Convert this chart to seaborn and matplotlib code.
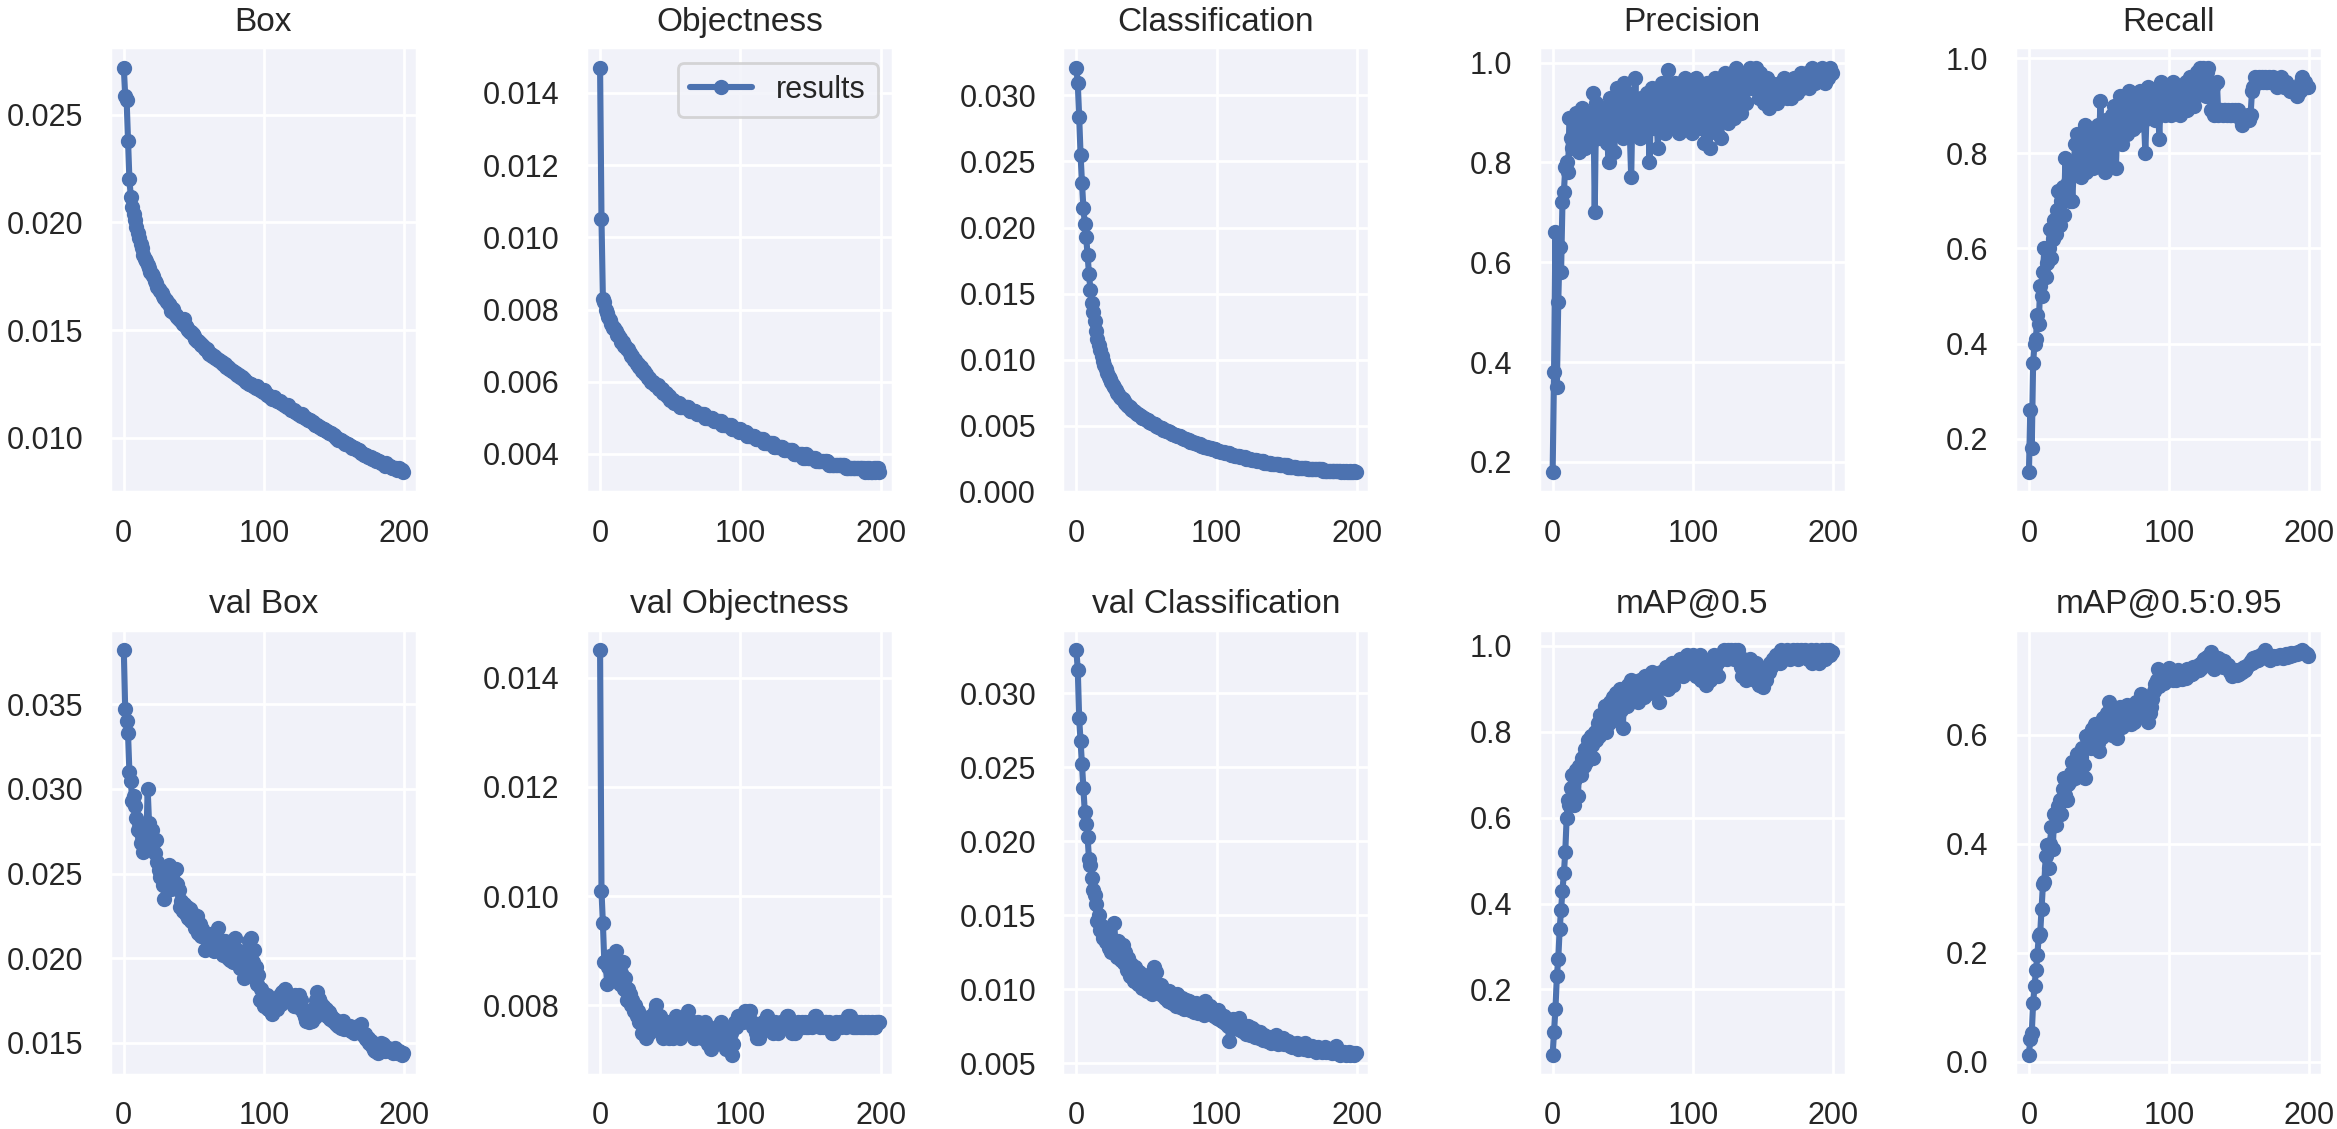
import numpy as np
import matplotlib
matplotlib.use("Agg")
import matplotlib.pyplot as plt
import seaborn as sns

# epochs 0..199
epochs = list(range(200))

titles = ['Box', 'Objectness', 'Classification', 'Precision', 'Recall',
          'val Box', 'val Objectness', 'val Classification', 'mAP@0.5', 'mAP@0.5:0.95']

box = [
    .0272, .0259, .0257, .0238, .0220, .0212, .0207, .0204, .0201, .0198,
    .0195, .0193, .0190, .0188, .0185, .0183, .0182, .0180, .0179, .0177,
    .0176, .0175, .0173, .0172, .0170, .0169, .0168, .0167, .0166, .0165,
    .0164, .0163, .0162, .0161, .0159, .0160, .0158, .0157, .0156, .0155,
    .0155, .0154, .0153, .0155, .0152, .0151, .0150, .0149, .0149, .0148,
    .0147, .0146, .0145, .0145, .0144, .0143, .0143, .0142, .0141, .0141,
    .0140, .0139, .0139, .0138, .0138, .0137, .0137, .0136, .0136, .0135,
    .0135, .0134, .0134, .0133, .0133, .0132, .0132, .0131, .0131, .0130,
    .0130, .0129, .0129, .0128, .0128, .0127, .0127, .0126, .0126, .0125,
    .0125, .0125, .0124, .0124, .0123, .0124, .0123, .0122, .0122, .0121,
    .0122, .0121, .0120, .0120, .0119, .0119, .0118, .0119, .0118, .0117,
    .0117, .0117, .0116, .0116, .0115, .0115, .0114, .0115, .0114, .0113,
    .0113, .0113, .0112, .0112, .0111, .0111, .0110, .0111, .0110, .0109,
    .0109, .0108, .0108, .0108, .0107, .0107, .0106, .0106, .0106, .0105,
    .0105, .0104, .0104, .0104, .0103, .0103, .0102, .0102, .0102, .0101,
    .0101, .0100, .0100, .0099, .0099, .0099, .0098, .0098, .0097, .0097,
    .0097, .0096, .0096, .0095, .0095, .0095, .0094, .0094, .0094, .0093,
    .0093, .0092, .0092, .0092, .0091, .0091, .0091, .0090, .0090, .0090,
    .0089, .0089, .0089, .0088, .0088, .0088, .0087, .0088, .0087, .0087,
    .0087, .0086, .0086, .0086, .0086, .0085, .0086, .0085, .0085, .0084,
]

objectness = [
    .0147, .0105, .0083, .0082, .0080, .0079, .0078, .0077, .0076, .0075,
    .0075, .0074, .0073, .0073, .0072, .0071, .0071, .0070, .0070, .0069,
    .0069, .0068, .0067, .0067, .0066, .0066, .0065, .0065, .0064, .0064,
    .0063, .0063, .0062, .0062, .0061, .0061, .0060, .0060, .0060, .0059,
    .0059, .0059, .0058, .0058, .0058, .0057, .0057, .0057, .0056, .0056,
    .0055, .0055, .0055, .0054, .0054, .0054, .0054, .0053, .0053, .0053,
    .0053, .0053, .0053, .0053, .0052, .0052, .0052, .0052, .0052, .0051,
    .0051, .0051, .0051, .0051, .0051, .0050, .0050, .0050, .0050, .0050,
    .0050, .0049, .0049, .0049, .0049, .0049, .0049, .0048, .0048, .0048,
    .0048, .0048, .0048, .0048, .0047, .0047, .0047, .0047, .0047, .0046,
    .0047, .0046, .0046, .0046, .0046, .0045, .0045, .0045, .0045, .0045,
    .0045, .0044, .0044, .0044, .0044, .0044, .0044, .0043, .0043, .0043,
    .0043, .0043, .0043, .0043, .0042, .0042, .0042, .0042, .0042, .0042,
    .0042, .0041, .0041, .0041, .0041, .0041, .0041, .0041, .0040, .0040,
    .0040, .0040, .0040, .0040, .0040, .0039, .0039, .0040, .0039, .0039,
    .0039, .0039, .0039, .0039, .0038, .0038, .0038, .0038, .0038, .0038,
    .0038, .0038, .0038, .0037, .0037, .0037, .0037, .0037, .0037, .0037,
    .0037, .0037, .0037, .0037, .0037, .0036, .0036, .0036, .0036, .0036,
    .0036, .0036, .0036, .0036, .0036, .0036, .0036, .0036, .0036, .0035,
    .0036, .0035, .0036, .0035, .0035, .0036, .0035, .0036, .0036, .0035,
]

classification = [
    .0321, .0309, .0284, .0255, .0234, .0215, .0203, .0193, .0179, .0165,
    .0153, .0143, .0136, .0129, .0122, .0116, .0111, .0107, .0103, .0099,
    .0096, .0093, .0090, .0087, .0085, .0083, .0081, .0079, .0077, .0075,
    .0074, .0072, .0071, .0070, .0069, .0067, .0066, .0065, .0064, .0063,
    .0062, .0061, .0060, .0059, .0059, .0058, .0057, .0056, .0056, .0055,
    .0054, .0054, .0053, .0052, .0052, .0051, .0051, .0050, .0049, .0049,
    .0048, .0048, .0047, .0047, .0046, .0046, .0045, .0045, .0044, .0044,
    .0043, .0043, .0042, .0042, .0042, .0041, .0041, .0040, .0040, .0039,
    .0039, .0038, .0038, .0038, .0037, .0037, .0036, .0036, .0036, .0035,
    .0035, .0034, .0034, .0034, .0033, .0033, .0033, .0032, .0032, .0032,
    .0031, .0031, .0031, .0030, .0030, .0030, .0029, .0029, .0029, .0029,
    .0028, .0028, .0028, .0027, .0027, .0027, .0027, .0026, .0026, .0026,
    .0026, .0025, .0025, .0025, .0025, .0024, .0024, .0024, .0024, .0023,
    .0023, .0023, .0023, .0023, .0022, .0022, .0022, .0022, .0022, .0021,
    .0021, .0021, .0021, .0021, .0021, .0020, .0020, .0020, .0020, .0020,
    .0020, .0019, .0019, .0019, .0019, .0019, .0019, .0018, .0018, .0018,
    .0018, .0018, .0018, .0018, .0018, .0017, .0017, .0017, .0017, .0017,
    .0017, .0017, .0017, .0017, .0017, .0017, .0016, .0016, .0016, .0016,
    .0016, .0016, .0016, .0016, .0016, .0016, .0016, .0016, .0016, .0015,
    .0016, .0015, .0016, .0015, .0015, .0016, .0015, .0015, .0016, .0015,
]

precision = [
    .18, .38, .66, .35, .52, .63, .58, .72, .74, .79,
    .80, .78, .89, .85, .83, .87, .84, .90, .86, .82,
    .88, .91, .85, .83, .89, .86, .90, .84, .88, .94,
    .70, .92, .87, .90, .85, .88, .91, .86, .89, .84,
    .80, .93, .88, .86, .82, .91, .95, .89, .87, .93,
    .85, .96, .90, .88, .94, .86, .77, .93, .89, .97,
    .87, .91, .85, .93, .88, .90, .86, .94, .92, .80,
    .89, .95, .87, .91, .90, .83, .93, .88, .96, .90,
    .86, .92, .985, .89, .94, .87, .91, .96, .88, .93,
    .86, .95, .90, .92, .97, .88, .93, .90, .96, .86,
    .94, .91, .97, .89, .93, .87, .92, .95, .84, .90,
    .96, .88, .83, .92, .94, .90, .97, .86, .93, .91,
    .85, .95, .90, .98, .92, .88, .94, .91, .97, .89,
    .93, .99, .92, .96, .90, .98, .94, .97, .92, .98,
    .96, .99, .95, .98, .97, .99, .96, .93, .98, .97,
    .94, .92, .95, .97, .91, .93, .96, .92, .95, .93,
    .92, .94, .96, .93, .95, .97, .94, .93, .96, .95,
    .93, .95, .97, .96, .94, .97, .96, .98, .95, .97,
    .96, .98, .97, .95, .97, .99, .98, .96, .98, .97,
    .98, .97, .99, .98, .96, .98, .97, .98, .99, .98,
]

recall = [
    .13, .26, .18, .36, .40, .41, .46, .44, .52, .50,
    .55, .60, .54, .57, .60, .64, .58, .62, .66, .63,
    .68, .72, .65, .70, .73, .67, .79, .72, .74, .70,
    .76, .70, .78, .82, .84, .77, .80, .75, .83, .79,
    .86, .76, .81, .78, .85, .80, .77, .83, .79, .86,
    .82, .91, .78, .84, .76, .87, .81, .85, .79, .88,
    .83, .90, .77, .86, .84, .92, .82, .88, .85, .91,
    .84, .93, .87, .89, .85, .92, .88, .90, .86, .93,
    .89, .91, .87, .80, .90, .94, .88, .92, .89, .91,
    .87, .93, .90, .83, .95, .89, .92, .88, .94, .90,
    .91, .88, .93, .95, .89, .92, .90, .94, .88, .93,
    .90, .92, .95, .89, .93, .96, .91, .94, .90, .92,
    .97, .93, .98, .95, .98, .96, .92, .97, .98, .93,
    .89, .94, .88, .89, .95, .88, .89, .89, .88, .89,
    .89, .88, .89, .88, .88, .89, .88, .89, .88, .89,
    .88, .87, .86, .87, .87, .87, .88, .87, .88, .93,
    .94, .96, .95, .95, .96, .95, .96, .95, .96, .95,
    .95, .96, .95, .95, .96, .95, .95, .94, .95, .95,
    .96, .95, .94, .95, .94, .94, .93, .94, .93, .93,
    .93, .92, .93, .93, .95, .96, .94, .95, .94, .94,
]

val_box = [
    .0382, .0347, .0340, .0333, .0310, .0305, .0293, .0296, .0290, .0283,
    .0276, .0280, .0268, .0272, .0263, .0270, .0266, .0300, .0280, .0272,
    .0276, .0268, .0262, .0270, .0257, .0252, .0248, .0254, .0243, .0235,
    .0245, .0250, .0255, .0248, .0241, .0246, .0252, .0253, .0244, .0240,
    .0230, .0234, .0228, .0232, .0226, .0230, .0224, .0229, .0222, .0226,
    .0222, .0218, .0225, .0215, .0220, .0213, .0217, .0215, .0205, .0212,
    .0208, .0214, .0206, .0210, .0204, .0212, .0215, .0218, .0209, .0205,
    .0207, .0202, .0210, .0203, .0200, .0206, .0199, .0204, .0198, .0212,
    .0200, .0205, .0197, .0194, .0200, .0202, .0188, .0193, .0205, .0210,
    .0205, .0212, .0198, .0205, .0195, .0185, .0190, .0175, .0182, .0178,
    .0172, .0176, .0178, .0170, .0174, .0169, .0167, .0172, .0175, .0170,
    .0175, .0178, .0173, .0180, .0176, .0182, .0179, .0175, .0178, .0174,
    .0176, .0172, .0178, .0174, .0171, .0178, .0175, .0170, .0168, .0165,
    .0163, .0166, .0162, .0168, .0163, .0170, .0165, .0175, .0180, .0176,
    .0174, .0171, .0172, .0168, .0170, .0166, .0168, .0164, .0166, .0163,
    .0164, .0161, .0163, .0160, .0162, .0159, .0163, .0158, .0160, .0159,
    .0158, .0160, .0157, .0159, .0156, .0158, .0157, .0160, .0158, .0161,
    .0156, .0154, .0155, .0152, .0153, .0150, .0151, .0148, .0146, .0145,
    .0145, .0144, .0148, .0150, .0147, .0149, .0145, .0146, .0147, .0146,
    .0145, .0146, .0144, .0147, .0145, .0144, .0145, .0144, .0143, .0144,
]

val_objectness = [
    .0145, .0101, .0095, .0088, .0088, .0084, .0087, .0089, .0086, .0085,
    .0088, .0090, .0085, .0087, .0084, .0086, .0088, .0083, .0085, .0081,
    .0083, .0082, .0080, .0081, .0079, .0080, .0078, .0079, .0077, .0078,
    .0075, .0077, .0076, .0074, .0076, .0075, .0078, .0076, .0077, .0079,
    .0080, .0077, .0076, .0078, .0075, .0074, .0076, .0075, .0077, .0074,
    .0075, .0076, .0074, .0077, .0078, .0075, .0076, .0074, .0077, .0075,
    .0076, .0078, .0077, .0079, .0076, .0075, .0077, .0074, .0074, .0076,
    .0077, .0075, .0076, .0074, .0075, .0077, .0076, .0073, .0074, .0072,
    .0074, .0075, .0073, .0076, .0074, .0075, .0077, .0076, .0073, .0074,
    .0072, .0074, .0073, .0075, .0071, .0073, .0077, .0076, .0078, .0077,
    .0077, .0078, .0077, .0079, .0078, .0078, .0079, .0079, .0077, .0076,
    .0076, .0075, .0074, .0074, .0075, .0076, .0077, .0076, .0077, .0078,
    .0077, .0076, .0076, .0075, .0076, .0077, .0076, .0075, .0076, .0077,
    .0076, .0077, .0077, .0078, .0078, .0076, .0077, .0075, .0076, .0075,
    .0076, .0077, .0076, .0076, .0077, .0076, .0077, .0076, .0076, .0077,
    .0077, .0076, .0077, .0078, .0078, .0077, .0077, .0076, .0077, .0076,
    .0077, .0077, .0076, .0077, .0076, .0075, .0075, .0076, .0077, .0076,
    .0076, .0077, .0076, .0077, .0077, .0076, .0077, .0078, .0078, .0077,
    .0076, .0077, .0076, .0076, .0077, .0076, .0077, .0076, .0076, .0077,
    .0076, .0077, .0076, .0076, .0077, .0076, .0076, .0077, .0077, .0077,
]

val_classification = [
    .0329, .0316, .0283, .0268, .0252, .0236, .0220, .0212, .0203, .0188,
    .0184, .0175, .0167, .0164, .0158, .0146, .0150, .0140, .0143, .0135,
    .0137, .0132, .0140, .0128, .0135, .0125, .0131, .0145, .0128, .0122,
    .0133, .0126, .0120, .0130, .0118, .0125, .0113, .0121, .0109, .0117,
    .0112, .0106, .0115, .0110, .0104, .0112, .0107, .0101, .0110, .0104,
    .0099, .0106, .0102, .0110, .0097, .0115, .0104, .0112, .0100, .0098,
    .0103, .0096, .0100, .0094, .0098, .0092, .0099, .0095, .0091, .0096,
    .0093, .0089, .0097, .0092, .0088, .0094, .0090, .0087, .0093, .0089,
    .0092, .0086, .0090, .0088, .0085, .0091, .0087, .0084, .0089, .0086,
    .0088, .0083, .0092, .0087, .0085, .0089, .0084, .0087, .0082, .0085,
    .0081, .0086, .0080, .0083, .0079, .0082, .0077, .0080, .0075, .0065,
    .0078, .0076, .0080, .0074, .0077, .0073, .0081, .0075, .0072, .0076,
    .0073, .0070, .0075, .0071, .0069, .0074, .0070, .0068, .0072, .0069,
    .0067, .0071, .0068, .0066, .0069, .0067, .0065, .0068, .0066, .0064,
    .0067, .0065, .0069, .0066, .0063, .0066, .0064, .0067, .0063, .0065,
    .0063, .0065, .0062, .0064, .0061, .0063, .0062, .0064, .0060, .0062,
    .0061, .0063, .0060, .0064, .0062, .0059, .0061, .0060, .0062, .0059,
    .0060, .0058, .0061, .0059, .0060, .0058, .0059, .0061, .0058, .0059,
    .0058, .0060, .0057, .0059, .0058, .0062, .0057, .0058, .0056, .0058,
    .0057, .0058, .0056, .0057, .0058, .0056, .0057, .0057, .0056, .0057,
]

map50 = [
    .048, .10, .155, .23, .27, .34, .385, .43, .47, .52,
    .60, .64, .63, .67, .70, .63, .69, .71, .65, .72,
    .70, .74, .72, .76, .73, .78, .75, .79, .77, .74,
    .80, .78, .82, .79, .84, .81, .83, .86, .80, .85,
    .82, .87, .84, .88, .83, .89, .86, .87, .90, .85,
    .81, .88, .90, .86, .91, .87, .92, .89, .88, .91,
    .90, .87, .92, .89, .91, .88, .93, .90, .92, .89,
    .91, .94, .90, .92, .89, .93, .87, .94, .91, .93,
    .92, .95, .90, .94, .93, .96, .91, .95, .93, .96,
    .94, .97, .95, .93, .97, .96, .98, .94, .97, .95,
    .98, .96, .93, .97, .95, .98, .92, .96, .94, .91,
    .93, .96, .92, .97, .94, .98, .95, .96, .93, .97,
    .98, .97, .99, .98, .97, .99, .98, .99, .98, .97,
    .99, .98, .99, .97, .95, .93, .97, .95, .92, .96,
    .94, .97, .93, .95, .92, .96, .94, .91, .93, .92,
    .905, .93, .92, .95, .94, .96, .95, .97, .96, .98,
    .97, .98, .96, .99, .98, .97, .98, .99, .98, .97,
    .98, .99, .98, .98, .99, .97, .98, .99, .98, .98,
    .99, .98, .97, .98, .99, .96, .98, .97, .99, .98,
    .96, .98, .99, .98, .97, .99, .98, .99, .98, .985,
]

map50_95 = [
    .013, .042, .052, .107, .139, .168, .195, .230, .234, .280,
    .326, .330, .377, .397, .355, .400, .430, .390, .455, .435,
    .450, .470, .480, .455, .500, .520, .490, .480, .510, .516,
    .530, .550, .540, .520, .565, .545, .535, .560, .575, .545,
    .520, .597, .580, .600, .575, .610, .590, .620, .600, .585,
    .570, .605, .595, .630, .610, .616, .640, .660, .625, .600,
    .610, .645, .620, .594, .635, .650, .615, .640, .625, .645,
    .655, .630, .650, .620, .640, .623, .660, .645, .635, .655,
    .675, .650, .660, .640, .655, .623, .640, .650, .665, .680,
    .694, .700, .720, .690, .705, .710, .695, .715, .700, .710,
    .723, .705, .715, .700, .712, .700, .718, .706, .715, .703,
    .707, .715, .705, .720, .710, .720, .712, .725, .715, .722,
    .726, .718, .730, .722, .735, .739, .730, .742, .736, .745,
    .752, .740, .720, .735, .728, .740, .732, .738, .725, .735,
    .730, .722, .728, .715, .720, .707, .712, .718, .710, .715,
    .712, .720, .715, .725, .718, .722, .728, .730, .735, .732,
    .740, .735, .742, .738, .745, .740, .748, .742, .755, .745,
    .740, .745, .738, .742, .745, .743, .740, .745, .742, .746,
    .743, .740, .745, .748, .742, .748, .745, .750, .746, .749,
    .750, .748, .752, .750, .753, .755, .752, .750, .748, .745,
]

series = [box, objectness, classification, precision, recall,
          val_box, val_objectness, val_classification, map50, map50_95]

sns.set_theme(style='darkgrid', rc={'axes.facecolor': '#F1F2F9'})
plt.rcParams['font.family'] = ['Liberation Sans', 'DejaVu Sans']

blue = sns.color_palette('deep')[0]

fig, axes = plt.subplots(2, 5, figsize=(11.685, 5.645), dpi=200)
axes = axes.ravel()

for i, ax in enumerate(axes):
    label = 'results' if i == 1 else None
    sns.lineplot(x=epochs, y=series[i], ax=ax, color=blue, marker='.',
                 linewidth=2.2, markersize=9, markeredgecolor=blue,
                 markeredgewidth=1, label=label)
    ax.set_title(titles[i], fontsize=12)
    ax.set_xlabel('')
    ax.set_ylabel('')
    ax.set_xticks([0, 100, 200])
    ax.tick_params(labelsize=11)
    if i == 1:
        ax.legend(loc='upper right', fontsize=11)
    elif ax.get_legend() is not None:
        ax.get_legend().remove()

fig.subplots_adjust(left=0.047, right=0.9936, bottom=0.048, top=0.958,
                    wspace=0.551, hspace=0.31)
fig.savefig('out.png', dpi=200)
